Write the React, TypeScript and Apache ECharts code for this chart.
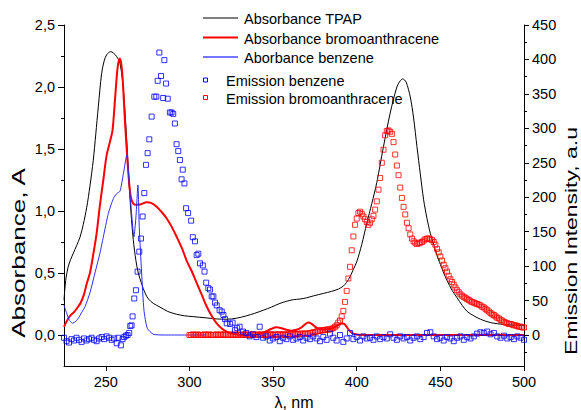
import React, { useEffect, useRef } from "react";
import * as echarts from "echarts";

const FONT = "'Liberation Sans', Arial, Helvetica, sans-serif";

// ---- tick labels ----
const xTicks = [250, 300, 350, 400, 450, 500];
const leftTicks = [0, 0.5, 1, 1.5, 2, 2.5];
const leftMinor = [0.25, 0.75, 1.25, 1.75, 2.25];
const rightTicks = [0, 50, 100, 150, 200, 250, 300, 350, 400, 450];
const rightMinor = [-25, 25, 75, 125, 175, 225, 275, 325, 375, 425];

// ---- Absorbance TPAP (wavelength, A) ----
const absTPAP: number[][] = [
  [225, 0.28], [226, 0.44], [227.5, 0.55], [229, 0.61], [230.6, 0.66], [232.5, 0.72], [234.6, 0.79],
  [236.5, 0.89], [238.6, 1.03], [240.5, 1.2], [242.5, 1.41], [244, 1.62], [245.5, 1.84], [247.5, 2.11],
  [249, 2.21], [250.5, 2.26], [252.9, 2.285], [254.5, 2.275], [256.5, 2.245], [258.5, 2.19],
  [260.5, 1.98], [262.5, 1.57], [264.5, 1.09], [266.4, 0.77], [268, 0.6], [269.4, 0.5], [271.5, 0.41],
  [273.4, 0.34], [275.5, 0.29], [278.4, 0.255], [282.4, 0.225], [287, 0.19], [292.4, 0.167],
  [297, 0.155], [302.3, 0.148], [310, 0.138], [316, 0.13], [322.3, 0.127], [328, 0.135],
  [334.2, 0.155], [339, 0.175], [344.2, 0.2], [349, 0.225], [354.1, 0.255], [358, 0.272],
  [362.1, 0.285], [366, 0.29], [370, 0.3], [374, 0.315], [380, 0.335], [385, 0.352], [389, 0.37],
  [392, 0.395], [394, 0.425], [396, 0.47], [398, 0.53], [400, 0.59], [403, 0.73], [406, 0.9],
  [409, 1.06], [412, 1.23], [416, 1.52], [420, 1.79], [424, 2.0], [426, 2.05], [427.5, 2.065],
  [429.5, 2.04], [432, 1.92], [434, 1.75], [436, 1.52], [438, 1.3], [440, 1.09], [442, 0.94],
  [444, 0.82], [446, 0.73], [448, 0.64], [450, 0.57], [452, 0.5], [454, 0.44], [457, 0.36],
  [460, 0.3], [463, 0.24], [466, 0.19], [470, 0.155], [474, 0.127], [480, 0.1], [488, 0.085],
  [494, 0.08], [500, 0.078],
];

// ---- Absorbance bromoanthracene ----
const absBromo: number[][] = [
  [225, 0.065], [227, 0.12], [229, 0.16], [231, 0.185], [233, 0.22], [235, 0.26], [237, 0.33],
  [238.5, 0.41], [240.5, 0.5], [242.5, 0.65], [244.5, 0.82], [246.5, 1.05], [248.5, 1.25],
  [250.5, 1.45], [252.5, 1.56], [254, 1.65], [255.5, 1.9], [257, 2.15], [258.3, 2.23], [259.2, 2.19],
  [260.1, 2.06], [261.5, 1.71], [263.5, 1.3], [264.9, 1.115], [266.4, 1.06], [268.5, 1.05],
  [271, 1.055], [274.4, 1.07], [277, 1.065], [280.4, 1.035], [283.5, 0.99], [286.4, 0.94],
  [289.5, 0.87], [292.4, 0.79], [295.5, 0.7], [298.3, 0.6], [301.5, 0.51], [304.3, 0.42],
  [307.5, 0.32], [310.3, 0.23], [313.5, 0.15], [316.3, 0.094], [319.5, 0.05], [322.3, 0.027],
  [326, 0.01], [330, 0.003], [336, 0.0], [342, 0.008], [346, 0.03], [349, 0.05], [352, 0.062],
  [355, 0.055], [358, 0.042], [361, 0.035], [364, 0.042], [367, 0.062], [369, 0.085], [371, 0.1],
  [373, 0.09], [375, 0.068], [377, 0.052], [380, 0.045], [383, 0.048], [386, 0.058], [389, 0.08],
  [391, 0.093], [392.5, 0.09], [394, 0.065], [396, 0.03], [398, 0.01], [401, 0.002], [410, 0],
  [450, 0], [500, 0],
];

// ---- Aborbance benzene ----
const absBenzene: number[][] = [
  [225, 0.24], [226.5, 0.18], [228, 0.125], [230, 0.095], [232, 0.11], [233.5, 0.134], [235.5, 0.18],
  [237.6, 0.23], [240.5, 0.34], [243.5, 0.5], [246.5, 0.66], [248.5, 0.79], [251.5, 0.98],
  [254.5, 1.1], [256.5, 1.14], [258.5, 1.16], [260.5, 1.3], [262.5, 1.45], [264, 1.22],
  [265.4, 0.98], [266.8, 0.79], [268, 0.95], [269.2, 1.21], [270, 0.87], [271.4, 0.5],
  [272.8, 0.2], [274.8, 0.054], [278.4, 0.006], [285, 0], [310, 0],
];

// ---- Emission benzene (wavelength, intensity a.u.) ----
const emBenzene: number[][] = [
  [225, -4], [226.5, -9], [228, -11], [229.5, -6], [231, -8], [232.5, -4], [234, -7], [235.5, -10],
  [237, -5], [238.5, -8], [240, -6], [241.5, -4], [243, -7], [244.5, -9], [246, -5], [247.5, -3],
  [249, -6], [250.5, -2], [252, -4], [253.5, -7], [255, -5], [256.5, -12], [257.5, -4], [259, -15],
  [260, -6], [261, -3], [262, -1], [263, 0], [264, 3], [264.6, 13], [265.4, 14], [266, 27],
  [267, 53], [268, 65], [269, 92], [270, 121], [271, 140], [272, 172], [273, 206], [274, 247],
  [275, 264], [276, 284], [277.4, 317], [279, 346], [280.2, 346], [281, 369], [282, 410],
  [283, 376], [284.3, 344], [285, 399], [286, 365], [287, 343], [288.3, 323], [289.3, 323],
  [290.3, 321], [291.3, 307], [292.3, 277], [293.3, 267], [294.3, 254], [295.3, 226], [296, 240],
  [297, 220], [298, 184], [299.2, 177], [301, 166], [302, 142], [303.3, 136], [304.3, 116],
  [305.3, 118], [306.3, 104], [308, 101], [309, 92], [310, 76], [311.3, 68], [312.3, 66],
  [313.3, 56], [314.3, 56], [315.3, 47], [316.3, 43], [318, 36], [319.3, 34], [320.3, 29],
  [321.3, 23], [322.3, 17], [324.3, 16], [325.8, 18], [327.2, 7], [328.5, 10], [330, 12],
  [332, 5], [334, 3], [336, -2], [338, 1], [340, -3], [342, 12], [344, -4], [346, -2], [348, -8],
  [350, -5], [352, -3], [354, -9], [356, -4], [358, -6], [360, -2], [362, -7], [364, -5],
  [366, -3], [368, -8], [370, -4], [372, -6], [374, -2], [376, -5], [378, -9], [380, -3],
  [382, -7], [384, 2], [386, -4], [388, -8], [390, 0], [392, -10], [394, -5], [396, 3], [398, -6],
  [400, -3], [402, -8], [404, -2], [406, -5], [408, -4], [410, -7], [412, -2], [414, -6],
  [416, -3], [418, -5], [420, 1], [422, -4], [424, -7], [426, -2], [428, -5], [430, -3],
  [432, -8], [434, -4], [436, -2], [438, -6], [440, -3], [442, 3], [444, 4], [446, -2], [448, -6],
  [450, -4], [452, -8], [454, -3], [456, -5], [458, -9], [460, -4], [462, -2], [464, -7],
  [466, -3], [468, -5], [470, -2], [472, 2], [474, 4], [476, 3], [478, 5], [480, 1], [482, 3],
  [484, -2], [486, -4], [488, -1], [490, -5], [492, -3], [494, -6], [496, -2], [498, -4], [500, -7],
];

// ---- Emission bromoanthracene: one value per nm, from 300 nm to 500 nm ----
const emBromoStart = 300;
const emBromoValues: number[] = [
  0, 0, 1, 0, 0, 1, 0, 0, 0, 1,
  0, 0, 1, 0, 0, 0, 1, 0, 0, 1,
  0, 1, 0, 0, 1, 0, 0, 1, 0, 0,
  1, 0, 0, 1, 0, 0, 1, 0, 1, 0,
  0, 1, 0, 1, 0, 0, 1, 0, 1, 1,
  0, 1, 0, 1, 1, 0, 1, 1, 0, 1,
  1, 1, 2, 1, 1, 2, 1, 2, 2, 2,
  2, 2, 3, 3, 4, 4, 5, 6, 6, 7,
  7, 7, 8, 8, 8, 9, 10, 12, 14, 18,
  21, 27, 35, 48, 64, 82, 99, 123, 143, 160,
  169, 177, 179, 176, 172, 168, 164, 160, 163, 168,
  173, 182, 194, 211, 228, 250, 269, 290, 296, 297,
  295, 292, 280, 262, 246, 232, 214, 199, 186, 175,
  163, 155, 146, 140, 136, 134, 132, 133, 134, 135,
  137, 139, 140, 140, 139, 138, 135, 131, 125, 120,
  114, 108, 102, 97, 92, 86, 81, 77, 73, 69,
  65, 62, 59, 57, 55, 54, 52, 51, 49, 48,
  47, 46, 45, 44, 43, 41, 40, 38, 36, 34,
  32, 30, 29, 27, 25, 24, 22, 21, 19, 18,
  17, 16, 16, 15, 14, 14, 13, 12, 12, 11,
  11,
];

const legendLines = [
  { name: "Absorbance TPAP", color: "#000000", width: 1 },
  { name: "Absorbance bromoanthracene", color: "#ff0000", width: 2 },
  { name: "Aborbance benzene", color: "#7575ff", width: 2 },
];
const legendMarkers = [
  { name: "Emission benzene", color: "#0000ff" },
  { name: "Emission bromoanthracene", color: "#ff0000" },
];

const fmtComma = (v: number) => v.toFixed(1).replace(".", ",");

export default function App() {
  const ref = useRef<HTMLDivElement>(null);
  useEffect(() => {
    if (!ref.current) return;
    const chart = echarts.init(ref.current, null, { renderer: "svg" });
    const emBromo = emBromoValues.map((v, i) => [emBromoStart + i, v]);
    const axisLineStyle = { color: "#000", width: 1 };
    const labelStyle = { color: "#000", fontSize: 14.5, fontFamily: FONT };

    const graphics: any[] = [];
    legendLines.forEach((l, i) => {
      const y = 18 + i * 19.5;
      graphics.push({
        type: "line",
        shape: { x1: 203, y1: y, x2: 238, y2: y },
        style: { stroke: l.color, lineWidth: l.width },
        silent: true,
      });
      graphics.push({
        type: "text",
        x: 244,
        y: y + 1,
        style: { text: l.name, font: `14.5px ${FONT}`, fill: "#000", textVerticalAlign: "middle" },
        silent: true,
      });
    });
    legendMarkers.forEach((m, i) => {
      const y = 80 + i * 17.5;
      graphics.push({
        type: "rect",
        shape: { x: 203.5, y: y - 2, width: 4, height: 4 },
        style: { stroke: m.color, fill: "none", lineWidth: 1 },
        silent: true,
      });
      graphics.push({
        type: "text",
        x: 226,
        y: y + 1,
        style: { text: m.name, font: `14.5px ${FONT}`, fill: "#000", textVerticalAlign: "middle" },
        silent: true,
      });
    });
    // axis titles
    graphics.push({
      type: "text",
      x: 19,
      y: 253,
      rotation: Math.PI / 2,
      scaleX: 1.45,
      style: { text: "Absorbance, A", font: `18px ${FONT}`, fill: "#000", textAlign: "center", textVerticalAlign: "middle" },
      silent: true,
    });
    graphics.push({
      type: "text",
      x: 571,
      y: 241,
      rotation: Math.PI / 2,
      scaleX: 1.35,
      style: { text: "Emission Intensity, a.u", font: `17px ${FONT}`, fill: "#000", textAlign: "center", textVerticalAlign: "middle" },
      silent: true,
    });
    graphics.push({
      type: "text",
      x: 294,
      y: 402,
      style: { text: "λ, nm", font: `16px ${FONT}`, fill: "#000", textAlign: "center", textVerticalAlign: "middle" },
      silent: true,
    });

    const option: any = {
      animation: false,
      backgroundColor: "#ffffff",
      grid: { left: 64, right: 57, top: 25, bottom: 44, containLabel: false },
      xAxis: {
        type: "value",
        min: 225,
        max: 500,
        axisLine: { show: true, onZero: false, lineStyle: axisLineStyle },
        axisTick: { show: true, inside: false, length: 5, customValues: xTicks, lineStyle: axisLineStyle },
        axisLabel: { ...labelStyle, margin: 8, customValues: xTicks },
        splitLine: { show: false },
      },
      yAxis: [
        {
          type: "value",
          position: "left",
          min: -0.25,
          max: 2.5,
          axisLine: { show: true, onZero: false, lineStyle: axisLineStyle },
          axisTick: { show: true, length: 6, customValues: leftTicks, lineStyle: axisLineStyle },
          axisLabel: { ...labelStyle, margin: 9, customValues: leftTicks, formatter: (v: number) => fmtComma(v) },
          splitLine: { show: false },
        },
        {
          type: "value",
          position: "left",
          min: -0.25,
          max: 2.5,
          axisLine: { show: false },
          axisTick: { show: true, length: 3, customValues: leftMinor, lineStyle: axisLineStyle },
          axisLabel: { show: false },
          splitLine: { show: false },
        },
        {
          type: "value",
          position: "right",
          min: -45,
          max: 450,
          axisLine: { show: true, onZero: false, lineStyle: axisLineStyle },
          axisTick: { show: true, length: 5, customValues: rightTicks, lineStyle: axisLineStyle },
          axisLabel: { ...labelStyle, margin: 8, customValues: rightTicks },
          splitLine: { show: false },
        },
        {
          type: "value",
          position: "right",
          min: -45,
          max: 450,
          axisLine: { show: false },
          axisTick: { show: true, length: 3, customValues: rightMinor, lineStyle: axisLineStyle },
          axisLabel: { show: false },
          splitLine: { show: false },
        },
      ],
      series: [
        {
          type: "line",
          name: "Absorbance TPAP",
          yAxisIndex: 0,
          data: absTPAP,
          showSymbol: false,
          smooth: 0.3,
          lineStyle: { color: "#000000", width: 1 },
          z: 2,
        },
        {
          type: "line",
          name: "Absorbance bromoanthracene",
          yAxisIndex: 0,
          data: absBromo,
          showSymbol: false,
          smooth: 0.3,
          lineStyle: { color: "#ff0000", width: 2 },
          z: 2,
        },
        {
          type: "line",
          name: "Aborbance benzene",
          yAxisIndex: 0,
          data: absBenzene,
          showSymbol: false,
          smooth: 0.2,
          lineStyle: { color: "#2b2bff", width: 1 },
          z: 2,
        },
        {
          type: "scatter",
          name: "Emission bromoanthracene",
          yAxisIndex: 2,
          data: emBromo,
          symbol: "rect",
          symbolSize: 5,
          itemStyle: { color: "rgba(255,255,255,0)", borderColor: "#ff0000", borderWidth: 1 },
          z: 3,
        },
        {
          type: "scatter",
          name: "Emission benzene",
          yAxisIndex: 2,
          data: emBenzene,
          symbol: "rect",
          symbolSize: 5,
          itemStyle: { color: "rgba(255,255,255,0)", borderColor: "#0000ff", borderWidth: 1 },
          z: 4,
        },
      ],
      graphic: graphics,
    };
    chart.setOption(option);
    return () => chart.dispose();
  }, []);
  return <div ref={ref} style={{ position: "fixed", left: 0, top: 0, width: 581, height: 410 }} />;
}
